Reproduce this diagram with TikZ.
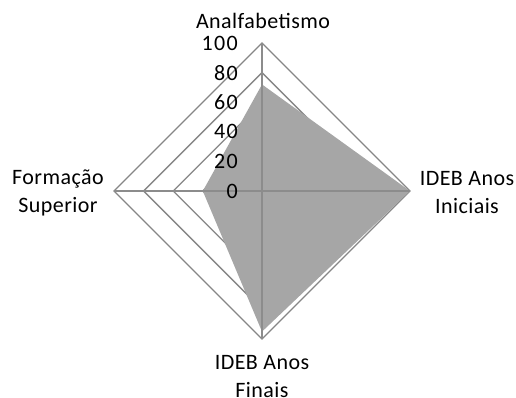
\documentclass[tikz,border=0pt]{standalone}
\usepackage{fontspec}
\setmainfont{Carlito}
\usetikzlibrary{calc}
\definecolor{gridgray}{HTML}{868686}
\definecolor{axisgray}{HTML}{8C8C8C}
\definecolor{fillgray}{HTML}{A6A6A6}
\begin{document}
\begin{tikzpicture}[x=1pt,y=-1pt,
  ring/.style={draw=gridgray,line width=1.3pt,line join=miter},
  axisline/.style={draw=axisgray,line width=2pt},
  series/.style={fill=fillgray,draw=none},
  catlabel/.style={font=\fontsize{22}{28}\selectfont\addfontfeatures{LetterSpace=2},align=center,inner sep=0pt},
  vallabel/.style={font=\fontsize{22}{24}\selectfont\addfontfeatures{LetterSpace=6},anchor=east,inner sep=0pt}]
\useasboundingbox (0,0) rectangle (516,397);
\coordinate (C) at (262,191);
\def\R{148}
% rings
\foreach \v in {20,40,60,80,100}{
  \draw[ring] ($(C)+(0,-\R*\v/100)$) -- ($(C)+(\R*\v/100,0)$) -- ($(C)+(0,\R*\v/100)$) -- ($(C)+(-\R*\v/100,0)$) -- cycle;
}
% series polygon
\coordinate (pT) at ($(C)+(0,-\R*0.72)$);
\coordinate (pR) at ($(C)+(\R*1.0,0)$);
\coordinate (pB) at ($(C)+(0,\R*0.95)$);
\coordinate (pL) at ($(C)+(-\R*0.40,0)$);
\fill[series] (pT) -- (pR) -- (pB) -- (pL) -- cycle;
% axes
\coordinate (aT) at ($(C)+(0,-\R)$);
\coordinate (aR) at ($(C)+(\R,0)$);
\coordinate (aB) at ($(C)+(0,\R)$);
\coordinate (aL) at ($(C)+(-\R,0)$);
\draw[axisline] (aT) -- (aB);
\draw[axisline] (aL) -- (aR);
% value labels
\foreach \v in {0,20,40,60,80,100}{
  \node[vallabel] (v\v) at ($(C)+(-24,-\R*\v/100)$) {\v};
}
% category labels
\node[catlabel] (cT) at (263,21) {Analfabetismo};
\node[catlabel] (cR) at (467,193) {IDEB Anos\\Iniciais};
\node[catlabel] (cB) at (262,377) {IDEB Anos\\Finais};
\node[catlabel] (cL) at (58,193) {Formação\\Superior};
\end{tikzpicture}
\end{document}
